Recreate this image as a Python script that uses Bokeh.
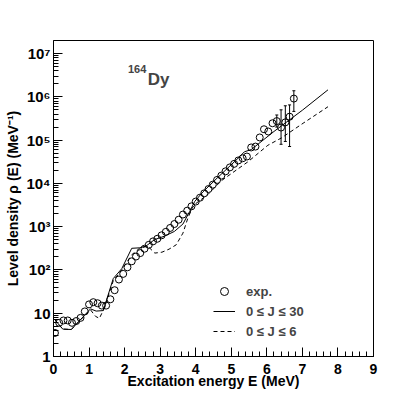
from bokeh.plotting import figure
from bokeh.models import (FixedTicker, CustomJSTickFormatter, Whisker, TeeHead,
                          ColumnDataSource, Legend, LegendItem, Label)
from bokeh.embed import file_html
from bokeh.resources import INLINE

# ---------------- data ----------------
E_exp = [0.04, 0.16, 0.28, 0.40, 0.52, 0.64, 0.76, 0.88, 1.00, 1.12, 1.24, 1.36,
         1.48, 1.60, 1.72, 1.84, 1.96, 2.08, 2.20, 2.32, 2.44, 2.56, 2.68, 2.80,
         2.92, 3.04, 3.16, 3.28, 3.40, 3.52, 3.64, 3.76, 3.88, 4.00, 4.12, 4.24,
         4.36, 4.48, 4.60, 4.72, 4.84, 4.96, 5.08, 5.20, 5.32, 5.44, 5.56, 5.68,
         5.80, 5.92, 6.04, 6.16, 6.28, 6.40, 6.52, 6.64, 6.76]
rho_exp = [3.5, 6.0, 6.8, 6.8, 6.0, 6.6, 7.8, 11, 16, 18, 17, 15,
           15, 21, 34, 60, 81, 115, 158, 204, 245, 309, 380, 457,
           525, 631, 759, 933, 1150, 1445, 1905, 2344, 2951, 3802, 4677, 5888,
           7413, 9333, 1.20e4, 1.51e4, 1.90e4, 2.34e4, 2.82e4, 3.39e4, 3.80e4, 4.17e4, 6.76e4, 7.08e4,
           1.15e5, 1.78e5, 1.58e5, 2.45e5, 2.75e5, 1.95e5, 2.57e5, 3.47e5, 9.1e5]

E_err = [6.28, 6.40, 6.52, 6.64, 6.76]
rho_err_lo = [2.0e5, 8.0e4, 9.3e4, 7.1e4, 4.6e5]
rho_err_hi = [3.8e5, 5.0e5, 6.2e5, 6.5e5, 1.38e6]

E_j30 = [0.03, 0.26, 0.50, 1.04, 1.20, 1.40, 1.68, 1.92, 2.20, 2.42, 2.60, 2.84,
         3.12, 3.40, 3.64, 3.83, 3.97, 4.20, 4.60, 5.14, 5.37, 5.56, 6.20, 7.00, 7.72]
rho_j30 = [7.2, 4.3, 4.2, 12.6, 11.2, 11.5, 63, 107, 316, 324, 355, 500,
           603, 776, 1150, 2240, 3800, 6310, 1.32e4, 3.47e4, 5.37e4, 6.03e4, 1.58e5, 4.9e5, 1.45e6]

E_j6 = [0.03, 0.26, 0.50, 1.04, 1.18, 1.29, 1.43, 1.68, 1.92, 2.20, 2.42, 2.65,
        2.85, 3.05, 3.25, 3.45, 3.64, 3.78, 3.90, 4.01, 4.34, 4.72, 5.47, 6.03,
        6.41, 7.02, 7.72]
rho_j6 = [7.2, 4.3, 4.2, 12.0, 8.5, 7.6, 13.2, 56, 100, 224, 316, 355,
          245, 257, 302, 380, 708, 1585, 2690, 3467, 5495, 1.15e4, 3.16e4, 7.6e4,
          1.12e5, 2.45e5, 5.9e5]

x_ticks = [0, 1, 2, 3, 4, 5, 6, 7, 8, 9]
y_ticks = [1, 10, 1e2, 1e3, 1e4, 1e5, 1e6, 1e7]
y_tick_labels = ["1", "10", "10²", "10³", "10⁴", "10⁵", "10⁶", "10⁷"]

FONT = "Liberation Sans"

p = figure(frame_width=320, frame_height=316, x_range=(0, 9), y_range=(1, 2e7),
           y_axis_type="log", output_backend="svg", toolbar_location=None,
           min_border_left=53, min_border_right=42, min_border_top=40,
           min_border_bottom=43)
p.xgrid.visible = False
p.ygrid.visible = False
p.outline_line_color = "black"
p.outline_line_width = 1
p.background_fill_color = "white"
p.border_fill_color = "white"

p.xaxis.ticker = FixedTicker(ticks=x_ticks,
                             minor_ticks=[i * 0.2 for i in range(46)])
p.yaxis.ticker = FixedTicker(ticks=y_ticks,
                             minor_ticks=[k * 10 ** n for n in range(7) for k in range(2, 10)])
p.yaxis.formatter = CustomJSTickFormatter(args=dict(labels=y_tick_labels),
                                          code="return labels[Math.round(Math.log10(tick))];")

for ax in (p.xaxis[0], p.yaxis[0]):
    ax.axis_line_color = "black"
    ax.major_tick_in = 9
    ax.major_tick_out = 0
    ax.minor_tick_in = 5
    ax.minor_tick_out = 0
    ax.major_tick_line_color = "black"
    ax.minor_tick_line_color = "black"
    ax.major_label_text_font = FONT
    ax.major_label_text_font_style = "bold"
    ax.major_label_text_color = "black"
    ax.axis_label_text_font = FONT
    ax.axis_label_text_font_style = "bold"
    ax.axis_label_text_font_size = "14px"
    ax.axis_label_text_color = "black"

p.xaxis.major_label_text_font_size = "14px"
p.yaxis.major_label_text_font_size = "15px"
p.xaxis.major_label_standoff = 7
p.xaxis.axis_label_standoff = -4
p.yaxis.major_label_standoff = 3
p.yaxis.axis_label_standoff = 2

p.xaxis.axis_label = "Excitation energy E (MeV)"
p.yaxis.axis_label = "Level density ρ (E) (MeV⁻¹)"

r30 = p.line(E_j30, rho_j30, line_color="black", line_width=1)
r6 = p.line(E_j6, rho_j6, line_color="black", line_width=1, line_dash="4 3")

err_src = ColumnDataSource(dict(x=E_err, lo=rho_err_lo, hi=rho_err_hi))
p.add_layout(Whisker(source=err_src, base="x", lower="lo", upper="hi",
                     line_color="black", line_width=1,
                     upper_head=TeeHead(size=3, line_color="black"),
                     lower_head=TeeHead(size=3, line_color="black")))

rexp = p.scatter(E_exp, rho_exp, marker="circle", size=7, fill_color=None,
                 line_color="black", line_width=1)

legend = Legend(items=[LegendItem(label="exp.", renderers=[rexp]),
                       LegendItem(label="0 ≤ J ≤ 30", renderers=[r30]),
                       LegendItem(label="0 ≤ J ≤ 6", renderers=[r6])],
                location=(160, 15), border_line_color=None,
                background_fill_alpha=0, padding=0, margin=0, spacing=0,
                glyph_width=22, glyph_height=20, label_height=20,
                label_standoff=11, label_text_font=FONT,
                label_text_font_style="bold", label_text_font_size="13px")
p.add_layout(legend)

p.add_layout(Label(x=2.653, y=2.45e6, text="Dy", text_font=FONT,
                   text_font_style="bold", text_font_size="17px",
                   text_baseline="alphabetic", text_align="left"))
p.add_layout(Label(x=2.61, y=4.5e6, text="164", text_font=FONT,
                   text_font_style="bold", text_font_size="11px",
                   text_baseline="alphabetic", text_align="right"))

open("out.html", "w").write(file_html(p, INLINE))
